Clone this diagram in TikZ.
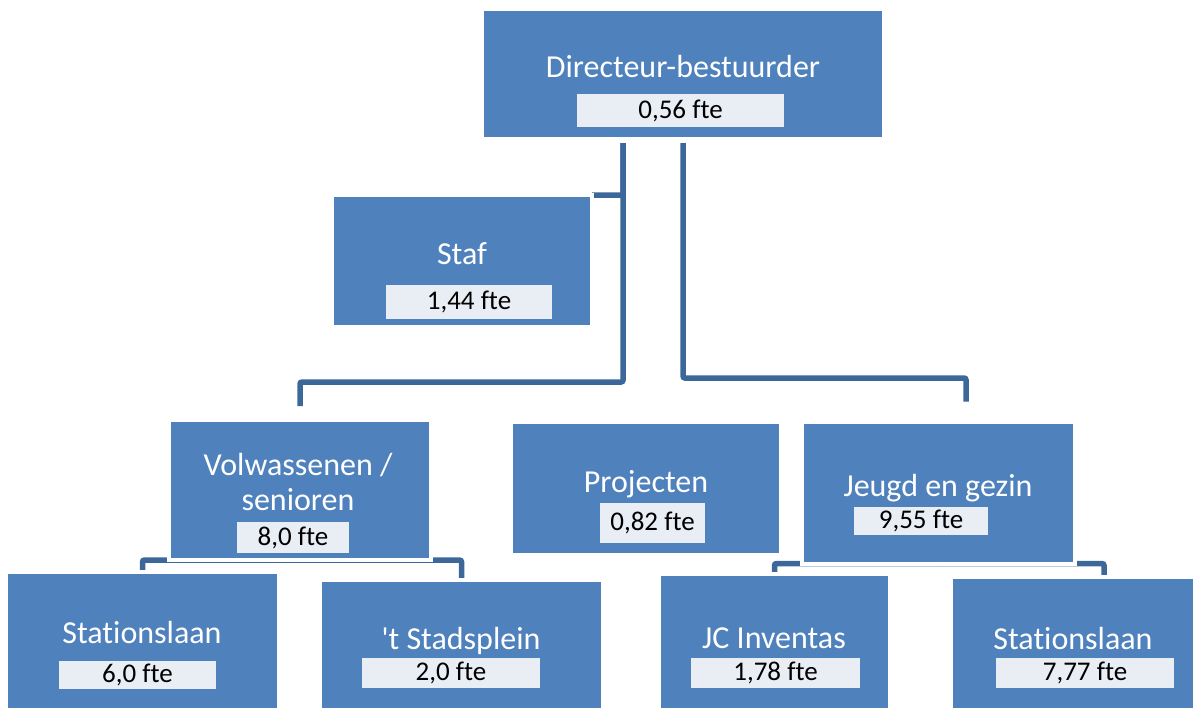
\documentclass[tikz,border=0pt]{standalone}
\usepackage{fontspec}
\newfontfamily\orgfont{Carlito}[Ligatures={NoCommon}]
\usetikzlibrary{calc}
\pgfdeclarelayer{bg}
\pgfsetlayers{bg,main}
\definecolor{boxblue}{HTML}{4F81BD}
\definecolor{ftefill}{HTML}{E9EDF4}
\definecolor{connblue}{HTML}{3C6899}
\tikzset{
  orgbox/.style={rectangle, fill=boxblue, draw=white, line width=4pt, inner sep=0pt, outer sep=0pt},
  ftebox/.style={rectangle, fill=ftefill, draw=none, inner sep=0pt, outer sep=0pt, text=black, font=\orgfont\fontsize{27}{31}\selectfont},
  lbl/.style={text=white, inner sep=0pt, font=\orgfont\fontsize{32}{38}\selectfont, align=center},
  conn/.style={draw=connblue, line width=5.5pt, rounded corners=2pt}
}
\begin{document}
\begin{tikzpicture}[x=1pt,y=-1pt]
\useasboundingbox (0,0) rectangle (1193,707);
\clip (0,0) rectangle (1193,707);
% boxes
\node[orgbox, minimum width=402, minimum height=130] (dir) at (683,74) {};
\node[orgbox, minimum width=260, minimum height=132] (staf) at (462,261) {};
\node[orgbox, minimum width=262, minimum height=140] (vol) at (300,490) {};
\node[orgbox, minimum width=270, minimum height=133] (proj) at (646,488) {};
\node[orgbox, minimum width=273, minimum height=142] (jeugd) at (938,492.5) {};
\node[orgbox, minimum width=273, minimum height=150] (stat1) at (142.5,647) {};
\node[orgbox, minimum width=283, minimum height=142] (stadt) at (461.5,651) {};
\node[orgbox, minimum width=231, minimum height=148] (jc) at (774.5,648) {};
\node[orgbox, minimum width=306, minimum height=145] (stat2) at (1104,649.5) {};
% labels
\node[lbl, anchor=base] (dirt) at (683,77) {Directeur-bestuurder};
\node[lbl, anchor=base] (staft) at (462,264) {Staf};
\node[lbl, anchor=base] (volt) at (298,475) {Volwassenen /};
\node[lbl, anchor=base] (volt2) at (298,510) {senioren};
\node[lbl, anchor=base] (projt) at (646,492) {Projecten};
\node[lbl, anchor=base] (jeugdt) at (938,496) {Jeugd en gezin};
\node[lbl, anchor=base] (stat1t) at (142,643) {Stationslaan};
\node[lbl, anchor=base] (stadtt) at (461,649) {'t Stadsplein};
\node[lbl, anchor=base] (jct) at (774,648) {JC Inventas};
\node[lbl, anchor=base] (stat2t) at (1073,649) {Stationslaan};
% fte boxes
\node[ftebox, minimum width=207, minimum height=33] (dirf) at (680.5,110.5) {0,56 fte};
\node[ftebox, minimum width=166, minimum height=34] (staff) at (469,302) {1,44 fte};
\node[ftebox, minimum width=112, minimum height=31] (volf) at (293,537.5) {8,0 fte};
\node[ftebox, minimum width=105, minimum height=40] (projf) at (652.5,523) {0,82 fte};
\node[ftebox, minimum width=134, minimum height=28] (jeugdf) at (921,521) {9,55 fte};
\node[ftebox, minimum width=157, minimum height=28] (stat1f) at (137.5,675) {6,0 fte};
\node[ftebox, minimum width=178, minimum height=30] (stadtf) at (451,673) {2,0 fte};
\node[ftebox, minimum width=169, minimum height=30] (jcf) at (775.5,673) {1,78 fte};
\node[ftebox, minimum width=178, minimum height=30] (stat2f) at (1085,673) {7,77 fte};
% connectors
\begin{pgfonlayer}{bg}
\draw[conn, shorten <=4pt] ([xshift=-60pt]dir.south) |- (staf.north east);
\draw[conn, shorten <=4pt, shorten >=14pt] ([xshift=-60pt]dir.south) -- ++(0,243) -| (vol.north);
\draw[conn, shorten <=4pt, shorten >=20pt] (dir.south) -- ++(0,239) -| ([xshift=28pt]jeugd.north);
\draw[conn] (stat1.north) |- (vol.south);
\draw[conn] (stadt.north) |- (vol.south);
\draw[conn] (jc.north) |- (jeugd.south);
\draw[conn] (stat2.north) |- (jeugd.south);
\end{pgfonlayer}
\end{tikzpicture}
\end{document}
